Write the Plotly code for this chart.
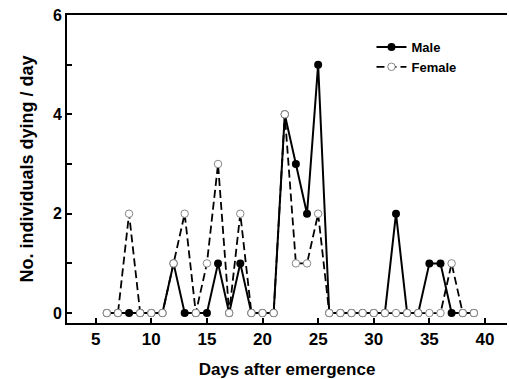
import plotly.graph_objects as go

days = list(range(6, 40))
male = [0, 0, 0, 0, 0, 0, 1, 0, 0, 0, 1, 0, 1, 0, 0, 0, 4, 3, 2, 5, 0,
        0, 0, 0, 0, 0, 2, 0, 0, 1, 1, 0, 0, 0]
female = [0, 0, 2, 0, 0, 0, 1, 2, 0, 1, 3, 0, 2, 0, 0, 0, 4, 1, 1, 2, 0,
          0, 0, 0, 0, 0, 0, 0, 0, 0, 0, 1, 0, 0]
x_ticks = [5, 10, 15, 20, 25, 30, 35, 40]
y_ticks = [0, 2, 4, 6]

FONT = "Liberation Sans, Arial, sans-serif"

fig = go.Figure()
fig.add_trace(go.Scatter(
    x=days, y=male, name="Male", mode="lines+markers",
    line=dict(color="black", width=2),
    marker=dict(symbol="circle", size=8, color="black"),
))
fig.add_trace(go.Scatter(
    x=days, y=female, name="Female", mode="lines+markers",
    line=dict(color="black", width=1.8, dash="8px,4px"),
    marker=dict(symbol="circle", size=7.5, color="white",
                line=dict(color="#888", width=1)),
))

fig.update_layout(
    width=509, height=379,
    margin=dict(l=67, r=2, t=15, b=56, autoexpand=False),
    paper_bgcolor="white", plot_bgcolor="white",
    font=dict(family=FONT, color="black"),
    showlegend=True,
    legend=dict(x=0.692, y=0.945, xanchor="left", yanchor="top",
                bgcolor="rgba(0,0,0,0)", tracegroupgap=0,
                font=dict(size=13, family=FONT, weight="bold"),
                itemwidth=30),
)
fig.update_xaxes(
    automargin=False,
    range=[2.42, 41.98], tickvals=x_ticks, ticktext=[str(v) for v in x_ticks],
    showline=True, linecolor="black", linewidth=2, mirror=True,
    ticks="inside", ticklen=5, tickwidth=2, tickcolor="black",
    showgrid=False, zeroline=False,
    tickfont=dict(size=17, family=FONT, weight="bold"),
    title=dict(text="Days after emergence", standoff=17,
               font=dict(size=17, family=FONT, weight="bold")),
)
fig.update_yaxes(
    automargin=False,
    range=[-0.2, 6.0], tickvals=y_ticks, ticktext=[str(v) for v in y_ticks],
    showline=True, linecolor="black", linewidth=2, mirror=False,
    ticks="inside", ticklen=5, tickwidth=2, tickcolor="black",
    minor=dict(dtick=1, ticks="inside", ticklen=5, tickwidth=1.5, tickcolor="black"),
    showgrid=False, zeroline=False,
    tickfont=dict(size=16, family=FONT, weight="bold"),
    title=dict(text="No. individuals dying / day", standoff=15,
               font=dict(size=18, family=FONT, weight="bold")),
)

fig.write_html("out.html", config={"displayModeBar": False},
               post_script="document.body.style.margin='0';")
